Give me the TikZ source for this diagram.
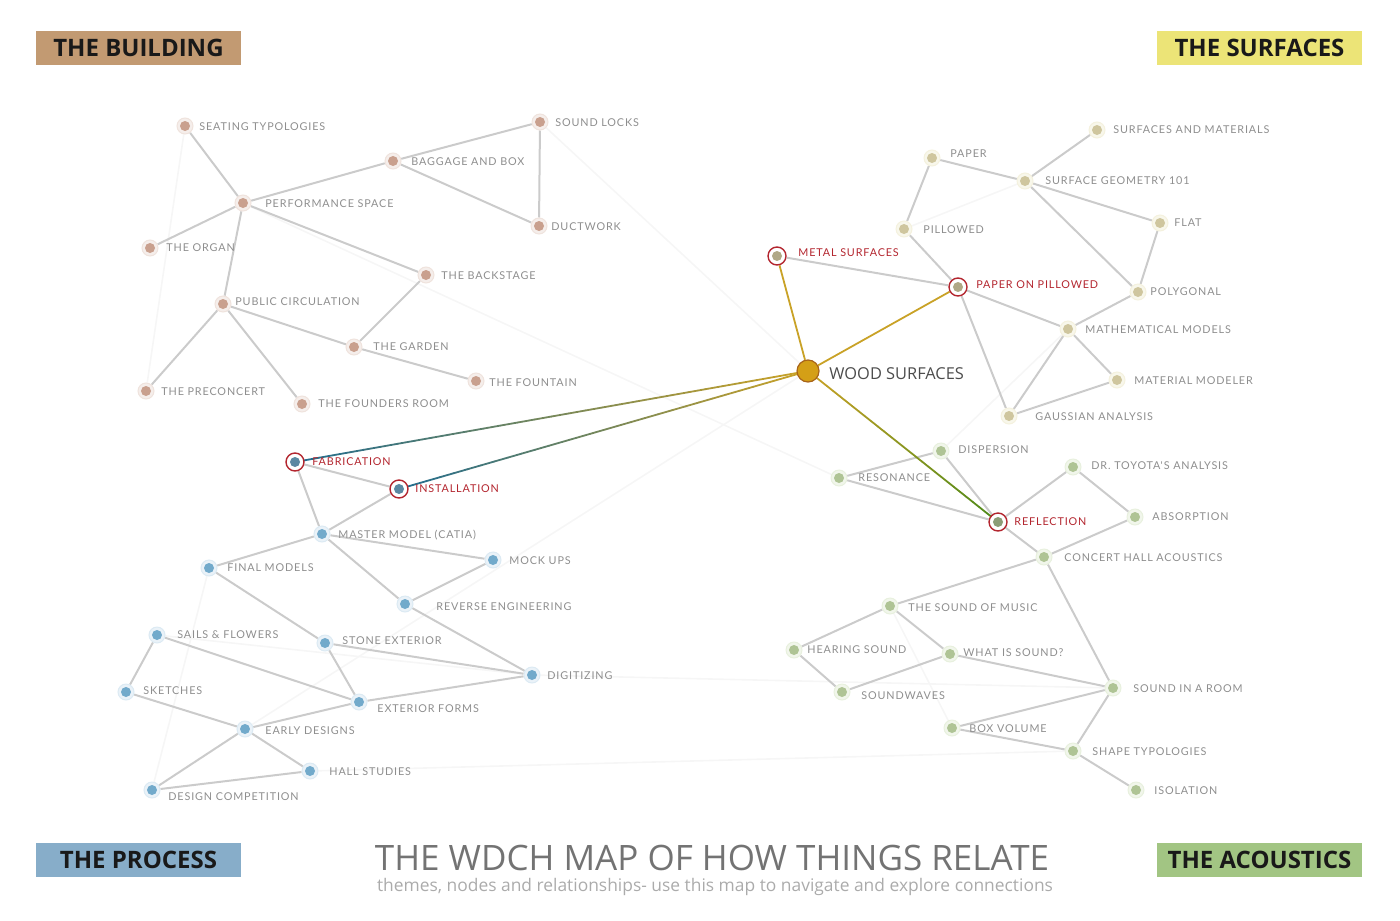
\documentclass[tikz,border=0pt]{standalone}
\usepackage{fontspec}
\setmainfont{Lato}
\newfontfamily\labfont[LetterSpace=8]{Lato}
\newfontfamily\osans{Open Sans}
\usetikzlibrary{calc,backgrounds}
\definecolor{bcol}{HTML}{C9A08E}
\definecolor{bring}{HTML}{EFE3DD}
\definecolor{scol}{HTML}{CFC69E}
\definecolor{sring}{HTML}{F4F1DE}
\definecolor{pcol}{HTML}{72AACB}
\definecolor{pring}{HTML}{DCEAF3}
\definecolor{acol}{HTML}{AFC495}
\definecolor{aring}{HTML}{E8F0DE}
\definecolor{edgec}{HTML}{CBCBCB}
\definecolor{faint}{HTML}{F6F6F6}
\definecolor{txt}{HTML}{8E8E8E}
\definecolor{hot}{HTML}{B3262F}
\definecolor{gold}{HTML}{D49F16}
\definecolor{goldedge}{HTML}{A8641A}
\definecolor{goldline}{HTML}{C9A227}
\definecolor{blueline}{HTML}{246D8E}
\definecolor{greenline}{HTML}{4F8A1A}
\definecolor{boxb}{HTML}{C29A72}
\definecolor{boxs}{HTML}{ECE477}
\definecolor{boxp}{HTML}{87ADC9}
\definecolor{boxa}{HTML}{A2C583}
\tikzset{
  dotnode/.style n args={3}{circle, inner sep=0pt, minimum size=8pt, fill=#2, draw=#3, line width=0.5pt,
    path picture={\fill[#1] (path picture bounding box.center) circle (2.5pt);}},
  bn/.style={dotnode={bcol}{bring!60!white}{bring}},
  sn/.style={dotnode={scol}{sring!60!white}{sring}},
  pn/.style={dotnode={pcol}{pring!60!white}{pring}},
  an/.style={dotnode={acol}{aring!60!white}{aring}},
  hotb/.style={dotnode={#1}{white}{hot}, line width=0.7pt, minimum size=9pt},
  lbl/.style={anchor=west, inner sep=0pt, text=txt, font=\labfont\fontsize{5.4}{6}\selectfont},
  hotlbl/.style={lbl, text=hot},
  link/.style={draw=edgec, line width=1pt},
  flink/.style={draw=faint, line width=0.8pt},
  corner/.style={anchor=center, inner sep=0pt, minimum width=102.5pt, minimum height=17pt,
    font=\osans\bfseries\fontsize{12}{14}\selectfont, text=black!90},
}
\newcommand{\gradlink}[4]{%
  \foreach \i in {0,...,29} {%
    \pgfmathsetmacro\ta{\i/30}%
    \pgfmathsetmacro\tb{(\i+1)/30}%
    \pgfmathsetmacro\pc{100-\i*100/29}%
    \draw[color=#3!\pc!#4, line width=0.9pt, line cap=round] ($(#1)!\ta!(#2)$) -- ($(#1)!\tb!(#2)$);
  }}
\begin{document}
\begin{tikzpicture}[x=0.5pt, y=-0.5pt]
\useasboundingbox (0,0) rectangle (1400,920);

% ---- corner boxes
\node[corner, fill=boxb] (cb) at (138.5,48) {THE BUILDING};
\node[corner, fill=boxs] (cs) at (1259.5,48) {THE SURFACES};
\node[corner, fill=boxp] (cp) at (138.5,860) {THE PROCESS};
\node[corner, fill=boxa] (ca) at (1259.5,860) {THE ACOUSTICS};

% ---- title
\node[inner sep=0pt, text=black!55, font=\osans\fontsize{17.5}{19}\selectfont] (title) at (712,858) {THE WDCH MAP OF HOW THINGS RELATE};
\node[inner sep=0pt, text=black!33, font=\osans\fontsize{8.7}{10}\selectfont] (subtitle) at (715,887) {themes, nodes and relationships- use this map to navigate and explore connections};

% ---- building nodes
\node[bn] (seat) at (185,126) {};
\node[bn] (locks) at (540,122) {};
\node[bn] (bag) at (393,161) {};
\node[bn] (duct) at (539,226) {};
\node[bn] (perf) at (243,203) {};
\node[bn] (organ) at (150,248) {};
\node[bn] (back) at (426,275) {};
\node[bn] (pub) at (223,304) {};
\node[bn] (garden) at (354,347) {};
\node[bn] (fount) at (476,381) {};
\node[bn] (pre) at (146,391) {};
\node[bn] (found) at (302,404) {};

\node[lbl] (seatL) at (199,127) {SEATING TYPOLOGIES};
\node[lbl] (locksL) at (555,123) {SOUND LOCKS};
\node[lbl] (bagL) at (411,162) {BAGGAGE AND BOX};
\node[lbl] (ductL) at (551,227) {DUCTWORK};
\node[lbl] (perfL) at (265,204) {PERFORMANCE SPACE};
\node[lbl] (organL) at (166,248) {THE ORGAN};
\node[lbl] (backL) at (441,276) {THE BACKSTAGE};
\node[lbl] (pubL) at (235,302) {PUBLIC CIRCULATION};
\node[lbl] (gardenL) at (373,347) {THE GARDEN};
\node[lbl] (fountL) at (489,383) {THE FOUNTAIN};
\node[lbl] (preL) at (161,392) {THE PRECONCERT};
\node[lbl] (foundL) at (318,404) {THE FOUNDERS ROOM};

% ---- surfaces nodes
\node[sn] (smat) at (1097,130) {};
\node[sn] (paper) at (932,158) {};
\node[sn] (sgeo) at (1025,181) {};
\node[sn] (flat) at (1160,223) {};
\node[sn] (pill) at (904,229) {};
\node[hotb=scol!85!black] (metal) at (777,256) {};
\node[hotb=scol!85!black] (ppill) at (958,287) {};
\node[sn] (poly) at (1138,292) {};
\node[sn] (math) at (1068,329) {};
\node[sn] (mmod) at (1117,380) {};
\node[sn] (gauss) at (1009,416) {};
\node[circle, inner sep=0pt, minimum size=11pt, fill=gold, draw=goldedge, line width=0.6pt] (wood) at (808,371) {};

\node[lbl] (smatL) at (1113,130) {SURFACES AND MATERIALS};
\node[lbl] (paperL) at (950,154) {PAPER};
\node[lbl] (sgeoL) at (1045,181) {SURFACE GEOMETRY 101};
\node[lbl] (flatL) at (1174,223) {FLAT};
\node[lbl] (pillL) at (923,230) {PILLOWED};
\node[hotlbl] (metalL) at (798,253) {METAL SURFACES};
\node[hotlbl] (ppillL) at (976,285) {PAPER ON PILLOWED};
\node[lbl] (polyL) at (1150,292) {POLYGONAL};
\node[lbl] (mathL) at (1085,330) {MATHEMATICAL MODELS};
\node[lbl] (mmodL) at (1134,381) {MATERIAL MODELER};
\node[lbl] (gaussL) at (1035,417) {GAUSSIAN ANALYSIS};
\node[anchor=west, inner sep=0pt, text=black!70, font=\osans\fontsize{8.2}{10}\selectfont] (woodL) at (829,374) {WOOD SURFACES};

% ---- process nodes
\node[hotb=pcol!80!black] (fab) at (295,462) {};
\node[hotb=pcol!80!black] (inst) at (399,489) {};
\node[pn] (master) at (322,534) {};
\node[pn] (mock) at (493,560) {};
\node[pn] (final) at (209,568) {};
\node[pn] (rev) at (405,604) {};
\node[pn] (sails) at (157,635) {};
\node[pn] (stone) at (325,643) {};
\node[pn] (digi) at (532,675) {};
\node[pn] (sketch) at (126,692) {};
\node[pn] (ext) at (359,702) {};
\node[pn] (early) at (245,729) {};
\node[pn] (hall) at (310,771) {};
\node[pn] (comp) at (152,790) {};

\node[hotlbl] (fabL) at (312,462) {FABRICATION};
\node[hotlbl] (instL) at (415,489) {INSTALLATION};
\node[lbl] (masterL) at (338,535) {MASTER MODEL (CATIA)};
\node[lbl] (mockL) at (509,561) {MOCK UPS};
\node[lbl] (finalL) at (227,568) {FINAL MODELS};
\node[lbl] (revL) at (436,607) {REVERSE ENGINEERING};
\node[lbl] (sailsL) at (177,635) {SAILS \& FLOWERS};
\node[lbl] (stoneL) at (342,641) {STONE EXTERIOR};
\node[lbl] (digiL) at (547,676) {DIGITIZING};
\node[lbl] (sketchL) at (143,691) {SKETCHES};
\node[lbl] (extL) at (377,709) {EXTERIOR FORMS};
\node[lbl] (earlyL) at (265,731) {EARLY DESIGNS};
\node[lbl] (hallL) at (329,772) {HALL STUDIES};
\node[lbl] (compL) at (168,797) {DESIGN COMPETITION};

% ---- acoustics nodes
\node[an] (disp) at (941,451) {};
\node[an] (reso) at (839,478) {};
\node[an] (toyota) at (1073,467) {};
\node[hotb=acol!80!black] (refl) at (998,522) {};
\node[an] (abs) at (1135,517) {};
\node[an] (concert) at (1044,557) {};
\node[an] (music) at (890,606) {};
\node[an] (hear) at (794,650) {};
\node[an] (what) at (950,654) {};
\node[an] (waves) at (842,692) {};
\node[an] (room) at (1113,688) {};
\node[an] (box) at (952,728) {};
\node[an] (shape) at (1073,751) {};
\node[an] (iso) at (1136,790) {};

\node[lbl] (dispL) at (958,450) {DISPERSION};
\node[lbl] (resoL) at (858,478) {RESONANCE};
\node[lbl] (toyotaL) at (1091,466) {DR. TOYOTA'S ANALYSIS};
\node[hotlbl] (reflL) at (1014,522) {REFLECTION};
\node[lbl] (absL) at (1152,517) {ABSORPTION};
\node[lbl] (concertL) at (1064,558) {CONCERT HALL ACOUSTICS};
\node[lbl] (musicL) at (908,608) {THE SOUND OF MUSIC};
\node[lbl] (hearL) at (807,650) {HEARING SOUND};
\node[lbl] (whatL) at (963,653) {WHAT IS SOUND?};
\node[lbl] (wavesL) at (861,696) {SOUNDWAVES};
\node[lbl] (roomL) at (1133,689) {SOUND IN A ROOM};
\node[lbl] (boxL) at (969,729) {BOX VOLUME};
\node[lbl] (shapeL) at (1092,752) {SHAPE TYPOLOGIES};
\node[lbl] (isoL) at (1154,791) {ISOLATION};

\begin{scope}[on background layer]
% faint background relations
\draw[flink] (hall) -- (shape);
\draw[flink] (locks) -- (wood);
\draw[flink] (seat) -- (pre);
\draw[flink] (final) -- (comp);
\draw[flink] (sails) -- (digi);
\draw[flink] (digi) -- (room);
\draw[flink] (perf) -- (reso);
\draw[flink] (sgeo) -- (pill);
\draw[flink] (math) -- (disp);
\draw[flink] (early) -- (wood);
\draw[flink] (music) -- (box);
% building
\draw[link] (seat) -- (perf);
\draw[link] (perf) -- (bag);
\draw[link] (bag) -- (locks);
\draw[link] (locks) -- (duct);
\draw[link] (bag) -- (duct);
\draw[link] (perf) -- (organ);
\draw[link] (perf) -- (pub);
\draw[link] (perf) -- (back);
\draw[link] (back) -- (garden);
\draw[link] (pub) -- (garden);
\draw[link] (garden) -- (fount);
\draw[link] (pub) -- (pre);
\draw[link] (pub) -- (found);
% surfaces
\draw[link] (paper) -- (pill);
\draw[link] (paper) -- (sgeo);
\draw[link] (sgeo) -- (smat);
\draw[link] (sgeo) -- (flat);
\draw[link] (sgeo) -- (poly);
\draw[link] (flat) -- (poly);
\draw[link] (pill) -- (ppill);
\draw[link] (metal) -- (ppill);
\draw[link] (ppill) -- (math);
\draw[link] (ppill) -- (gauss);
\draw[link] (math) -- (poly);
\draw[link] (math) -- (gauss);
\draw[link] (math) -- (mmod);
\draw[link] (mmod) -- (gauss);
% process
\draw[link] (fab) -- (inst);
\draw[link] (fab) -- (master);
\draw[link] (inst) -- (master);
\draw[link] (master) -- (final);
\draw[link] (master) -- (mock);
\draw[link] (master) -- (rev);
\draw[link] (mock) -- (rev);
\draw[link] (rev) -- (digi);
\draw[link] (final) -- (stone);
\draw[link] (stone) -- (digi);
\draw[link] (stone) -- (ext);
\draw[link] (sails) -- (ext);
\draw[link] (sails) -- (sketch);
\draw[link] (sketch) -- (early);
\draw[link] (ext) -- (early);
\draw[link] (ext) -- (digi);
\draw[link] (early) -- (hall);
\draw[link] (early) -- (comp);
\draw[link] (comp) -- (hall);
% acoustics
\draw[link] (disp) -- (reso);
\draw[link] (disp) -- (refl);
\draw[link] (reso) -- (refl);
\draw[link] (refl) -- (toyota);
\draw[link] (toyota) -- (abs);
\draw[link] (refl) -- (concert);
\draw[link] (abs) -- (concert);
\draw[link] (concert) -- (music);
\draw[link] (concert) -- (room);
\draw[link] (music) -- (hear);
\draw[link] (music) -- (what);
\draw[link] (hear) -- (waves);
\draw[link] (waves) -- (what);
\draw[link] (what) -- (room);
\draw[link] (room) -- (box);
\draw[link] (room) -- (shape);
\draw[link] (box) -- (shape);
\draw[link] (shape) -- (iso);
% highlighted relations from wood surfaces
\draw[draw=goldline, line width=0.9pt] (wood) -- (metal);
\draw[draw=goldline, line width=0.9pt] (wood) -- (ppill);
\gradlink{wood}{fab}{goldline}{blueline}
\gradlink{wood}{inst}{goldline}{blueline}
\gradlink{wood}{refl}{goldline}{greenline}
\end{scope}
\end{tikzpicture}
\end{document}
